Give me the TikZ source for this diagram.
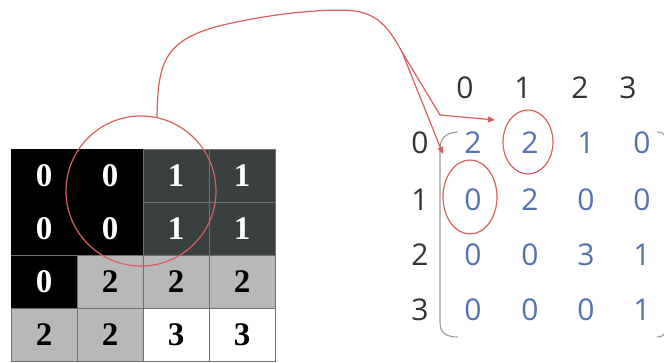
\documentclass[tikz,border=0pt]{standalone}
\usepackage{fontspec}
\setmainfont{Liberation Serif}
\newfontfamily\msans{Open Sans}
\usetikzlibrary{arrows.meta}
\definecolor{darkcell}{HTML}{3A4040}
\definecolor{lightcell}{HTML}{B8B8B8}
\definecolor{gridline}{HTML}{707070}
\definecolor{mred}{HTML}{D8605E}
\definecolor{mblue}{HTML}{5272B0}
\definecolor{mdark}{HTML}{333333}
\definecolor{brk}{HTML}{9A9A9A}
\tikzset{
  cell/.style={draw=gridline, line width=0.8pt, minimum width=66pt, minimum height=53pt, inner sep=0pt, font=\fontsize{33}{33}\selectfont\bfseries},
  dcell/.style={cell, fill=black, text=white},
  gcell/.style={cell, fill=darkcell, text=white},
  lcell/.style={cell, fill=lightcell, text=black},
  wcell/.style={cell, fill=white, text=black},
  entry/.style={font=\msans\fontsize{30}{30}\selectfont, text=mblue, inner sep=1pt},
  lab/.style={font=\msans\fontsize{30}{30}\selectfont, text=mdark, inner sep=1pt},
  redline/.style={draw=mred, line width=1.2pt},
  redarrow/.style={redline, -{Triangle[length=7pt,width=6pt]}},
  wdigit/.style={text=white, font=\fontsize{33}{33}\selectfont\bfseries},
}
\begin{document}
\begin{tikzpicture}[x=1pt,y=-1pt]
\useasboundingbox (0,0) rectangle (664,362);
% left grid
\node[dcell] (c00) at (44,175.5) {0};
\node[dcell] (c01) at (110,175.5) {0};
\node[gcell] (c02) at (176,175.5) {1};
\node[gcell] (c03) at (242,175.5) {1};
\node[dcell] (c10) at (44,228.5) {0};
\node[dcell] (c11) at (110,228.5) {0};
\node[gcell] (c12) at (176,228.5) {1};
\node[gcell] (c13) at (242,228.5) {1};
\node[dcell] (c20) at (44,281.5) {0};
\node[lcell] (c21) at (110,281.5) {2};
\node[lcell] (c22) at (176,281.5) {2};
\node[lcell] (c23) at (242,281.5) {2};
\node[lcell] (c30) at (44,334.5) {2};
\node[lcell] (c31) at (110,334.5) {2};
\node[wcell] (c32) at (176,334.5) {3};
\node[wcell] (c33) at (242,334.5) {3};
% fill over the black block borders
\fill[black] ([shift={(0.4pt,-0.4pt)}]c00.north west) rectangle ([shift={(-0.4pt,0.4pt)}]c11.south east);
\fill[black] ([shift={(0.4pt,-0.4pt)}]c10.south west) rectangle ([shift={(-0.4pt,0.4pt)}]c20.south east);
\node[wdigit] (d00) at (c00) {0};
\node[wdigit] (d01) at (c01) {0};
\node[wdigit] (d10) at (c10) {0};
\node[wdigit] (d11) at (c11) {0};
\node[wdigit] (d20) at (c20) {0};
% left circle
\node[redline, circle, minimum size=150pt, inner sep=0pt] (lc) at (141,191) {};
% matrix headers
\node[lab] (h0) at (465,88) {0};
\node[lab] (h1) at (523,88) {1};
\node[lab] (h2) at (580,88) {2};
\node[lab] (h3) at (628,88) {3};
\node[lab] (r0) at (420,143) {0};
\node[lab] (r1) at (420,200) {1};
\node[lab] (r2) at (420,255) {2};
\node[lab] (r3) at (420,310) {3};
% entries
\node[entry] (m00) at (473,143) {2};
\node[entry] (m01) at (530,143) {2};
\node[entry] (m02) at (586,143) {1};
\node[entry] (m03) at (642,143) {0};
\node[entry] (m10) at (473,200) {0};
\node[entry] (m11) at (530,200) {2};
\node[entry] (m12) at (586,200) {0};
\node[entry] (m13) at (642,200) {0};
\node[entry] (m20) at (473,255) {0};
\node[entry] (m21) at (530,255) {0};
\node[entry] (m22) at (586,255) {3};
\node[entry] (m23) at (642,255) {1};
\node[entry] (m30) at (473,310) {0};
\node[entry] (m31) at (530,310) {0};
\node[entry] (m32) at (586,310) {0};
\node[entry] (m33) at (642,310) {1};
% brackets
\draw[brk, line width=1.1pt] (458,132) .. controls (445,133) and (440,138) .. (440,150) -- (440,322) .. controls (440,333) and (446,337) .. (458,337);
\draw[brk, line width=1.1pt] (657,132) .. controls (662,132) and (664,134) .. (666,137);
\draw[brk, line width=1.1pt] (657,337) .. controls (662,337) and (664,335) .. (666,332);
% red ellipses
\draw[redline] (528,142) ellipse [x radius=25pt, y radius=32pt];
\draw[redline] (470,197) ellipse [x radius=27pt, y radius=37pt];
% connector
\coordinate (cstart) at (157,117);
\coordinate (split) at (402,52);
\coordinate (knee) at (440,115);
\coordinate (t1) at (495,120);
\coordinate (t2) at (443,154);
\draw[redline] (cstart) .. controls (158,65) and (163,42) .. (215,27) .. controls (270,13) and (330,8) .. (355,11) .. controls (380,15) and (390,30) .. (split);
\draw[redline] (split) -- (knee);
\draw[redarrow] (knee) -- (t1);
\draw[redarrow] (split) -- (t2);
\end{tikzpicture}
\end{document}
